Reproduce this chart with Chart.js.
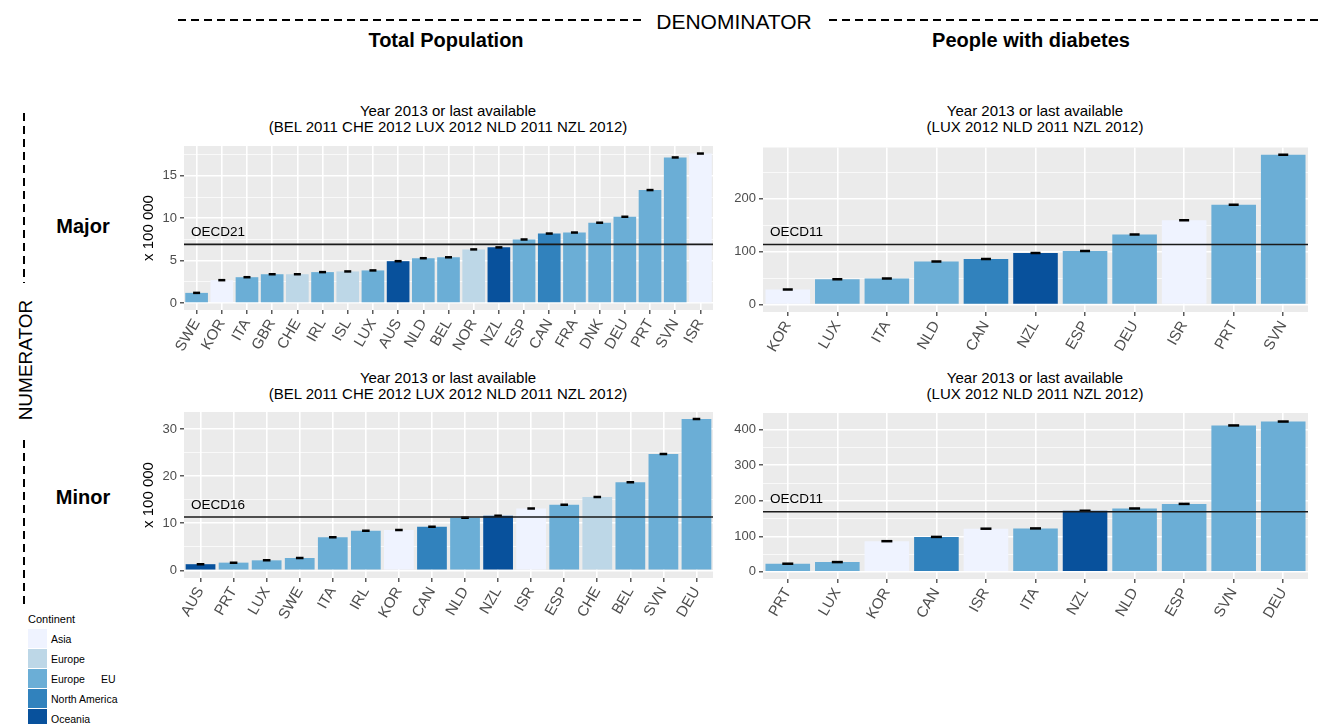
<!DOCTYPE html>
<html><head><meta charset="utf-8">
<script src="https://cdn.jsdelivr.net/npm/chart.js@4.4.1/dist/chart.umd.min.js"></script>
<style>
body{margin:0;background:#fff;width:1318px;height:724px;overflow:hidden;position:relative;font-family:"Liberation Sans",Arial,Helvetica,sans-serif;color:#000;}
canvas{position:absolute;}
.t{position:absolute;white-space:nowrap;line-height:1;transform:translate(-50%,-50%);}
.pt{position:absolute;white-space:nowrap;font-size:15px;line-height:16px;text-align:center;transform:translateX(-50%);}
.lg{position:absolute;left:28px;width:19px;height:19px;}
.ll{position:absolute;left:51px;font-size:10.5px;line-height:1;transform:translateY(-50%);}
</style></head><body>

<svg width="1318" height="724" style="position:absolute;left:0;top:0">
  <g stroke="#000" stroke-width="2" stroke-dasharray="8 5" fill="none">
    <line x1="178" y1="20" x2="641" y2="20"/>
    <line x1="829" y1="20" x2="1318" y2="20"/>
    <line x1="24" y1="113" x2="24" y2="283"/>
    <line x1="24" y1="440" x2="24" y2="605"/>
  </g>
</svg>

<div class="t" style="left:734px;top:21px;font-size:21px;">DENOMINATOR</div>
<div class="t" style="left:446px;top:40px;font-size:20px;font-weight:bold;">Total Population</div>
<div class="t" style="left:1031px;top:40px;font-size:20px;font-weight:bold;">People with diabetes</div>
<div class="t" style="left:25px;top:360px;font-size:19px;transform:translate(-50%,-50%) rotate(-90deg);">NUMERATOR</div>
<div class="t" style="left:83px;top:226px;font-size:20px;font-weight:bold;">Major</div>
<div class="t" style="left:83px;top:497px;font-size:20px;font-weight:bold;">Minor</div>

<div class="pt" style="left:448px;top:103px;">Year 2013 or last available<br>(BEL 2011 CHE 2012 LUX 2012 NLD 2011 NZL 2012)</div>
<div class="pt" style="left:1035px;top:103px;">Year 2013 or last available<br>(LUX 2012 NLD 2011 NZL 2012)</div>
<div class="pt" style="left:448px;top:370px;">Year 2013 or last available<br>(BEL 2011 CHE 2012 LUX 2012 NLD 2011 NZL 2012)</div>
<div class="pt" style="left:1035px;top:370px;">Year 2013 or last available<br>(LUX 2012 NLD 2011 NZL 2012)</div>

<canvas id="c1" width="590" height="240" style="left:130px;top:140px;width:590px;height:240px"></canvas>
<canvas id="c2" width="608" height="240" style="left:710px;top:140px;width:608px;height:240px"></canvas>
<canvas id="c3" width="590" height="245" style="left:130px;top:405px;width:590px;height:245px"></canvas>
<canvas id="c4" width="608" height="245" style="left:710px;top:405px;width:608px;height:245px"></canvas>

<div id="legend"></div>

<script>
const continents = ['Asia','Europe','Europe EU','North America','Oceania'];
const continentColors = ['#EFF3FF','#BDD7E7','#6BAED6','#3182BD','#08519C'];
const countryContinent = {
  SWE:'Europe EU', KOR:'Asia', ITA:'Europe EU', GBR:'Europe EU', CHE:'Europe', IRL:'Europe EU',
  ISL:'Europe', LUX:'Europe EU', AUS:'Oceania', NLD:'Europe EU', BEL:'Europe EU', NOR:'Europe',
  NZL:'Oceania', ESP:'Europe EU', CAN:'North America', FRA:'Europe EU', DNK:'Europe EU',
  DEU:'Europe EU', PRT:'Europe EU', SVN:'Europe EU', ISR:'Asia'
};

const majorPopCountries = ['SWE','KOR','ITA','GBR','CHE','IRL','ISL','LUX','AUS','NLD','BEL','NOR','NZL','ESP','CAN','FRA','DNK','DEU','PRT','SVN','ISR'];
const majorPopValues = [1.2,2.7,3.05,3.4,3.4,3.65,3.73,3.85,4.94,5.29,5.4,6.33,6.57,7.5,8.2,8.32,9.48,10.18,13.33,17.18,17.64];
const majorPopOECD = 6.92;

const majorDiabCountries = ['KOR','LUX','ITA','NLD','CAN','NZL','ESP','DEU','ISR','PRT','SVN'];
const majorDiabValues = [28.4,48.1,49.4,81.5,86.4,97.5,101.2,132.7,159.3,188.9,283.3];
const majorDiabOECD = 113.6;

const minorPopCountries = ['AUS','PRT','LUX','SWE','ITA','IRL','KOR','CAN','NLD','NZL','ISR','ESP','CHE','BEL','SVN','DEU'];
const minorPopValues = [1.3,1.63,2.12,2.62,7.0,8.42,8.56,9.27,11.18,11.6,13.1,13.94,15.57,18.68,24.7,32.13];
const minorPopOECD = 11.32;

const minorDiabCountries = ['PRT','LUX','KOR','CAN','ISR','ITA','NZL','NLD','ESP','SVN','DEU'];
const minorDiabValues = [23,27.6,86.4,98.4,121.5,122.3,172,178.4,191.3,412,423];
const minorDiabOECD = 169.2;

const FAMILY = '"Liberation Sans", Arial, Helvetica, sans-serif';

const bgPlugin = {
  id:'panelBg',
  beforeDraw(chart){
    const {ctx, chartArea:a} = chart;
    ctx.save(); ctx.fillStyle = '#EBEBEB';
    ctx.fillRect(a.left, a.top, a.right - a.left, a.bottom - a.top);
    ctx.restore();
  }
};
const refPlugin = {
  id:'refLine',
  afterDatasetsDraw(chart, args, o){
    const {ctx, chartArea:a} = chart;
    const y = chart.scales.y.getPixelForValue(o.value);
    ctx.save();
    ctx.strokeStyle = '#1a1a1a'; ctx.lineWidth = 1.7;
    ctx.beginPath(); ctx.moveTo(a.left, y); ctx.lineTo(a.right, y); ctx.stroke();
    ctx.fillStyle = '#000'; ctx.font = '13.5px ' + FAMILY;
    ctx.textBaseline = 'middle'; ctx.textAlign = 'left';
    ctx.fillText(o.label, a.left + 7, y - 12);
    ctx.restore();
  }
};

function makePanel(id, labels, values, oecd, oecdLabel, o){
  const colors = labels.map(c => continentColors[continents.indexOf(countryContinent[c])]);
  const isMajor = v => Math.abs(v / o.step - Math.round(v / o.step)) < 1e-6;
  new Chart(document.getElementById(id), {
    type:'bar',
    data:{labels:labels, datasets:[
      {type:'line', data:values, showLine:false, pointStyle:'line', pointRadius:o.errR, pointHoverRadius:o.errR,
       borderColor:'#000', pointBorderColor:'#000', pointBorderWidth:2.5, order:0},
      {type:'bar', data:values, backgroundColor:colors, categoryPercentage:0.9, barPercentage:1, order:1}
    ]},
    options:{
      responsive:false, animation:false, events:[],
      layout:{padding:{top:o.padTop, right:o.padRight, left:0, bottom:0}},
      plugins:{legend:{display:false}, tooltip:{enabled:false}, refLine:{value:oecd, label:oecdLabel}},
      scales:{
        x:{
          grid:{offset:false, color:'#FFFFFF', lineWidth:1.6, tickLength:4, tickColor:'#333333', tickWidth:1.2},
          border:{display:false},
          ticks:{maxRotation:60, minRotation:60, autoSkip:false, padding:2, color:'#4D4D4D', font:{size:15, family:FAMILY}},
          afterFit(s){ s.height = o.xH; s.paddingLeft = 0; s.paddingRight = 0; }
        },
        y:{
          min:o.min, max:o.max,
          grid:{color:'#FFFFFF', lineWidth:c => isMajor(c.tick.value) ? 1.6 : 0.7, tickLength:4,
                tickColor:c => isMajor(c.tick.value) ? '#333333' : 'rgba(0,0,0,0)', tickWidth:1.2},
          border:{display:false},
          ticks:{stepSize:o.step / 2, includeBounds:false, padding:3, color:'#4D4D4D', font:{size:13, family:FAMILY},
                 callback:v => isMajor(v) ? String(v) : ''},
          title:{display:o.yTitle, text:'x 100 000', color:'#000', font:{size:15, family:FAMILY}, padding:{top:10, bottom:0}},
          afterFit(s){ s.width = o.yW; s.paddingTop = 0; s.paddingBottom = 0; }
        }
      }
    },
    plugins:[bgPlugin, refPlugin]
  });
}

makePanel('c1', majorPopCountries, majorPopValues, majorPopOECD, 'OECD21',
  {min:-0.82, max:18.53, step:5, errR:3.5, padTop:2, padRight:7, xH:70, yW:54, yTitle:true});
makePanel('c2', majorDiabCountries, majorDiabValues, majorDiabOECD, 'OECD11',
  {min:-14, max:297, step:100, errR:5, padTop:1, padRight:10, xH:68, yW:53, yTitle:false});
makePanel('c3', minorPopCountries, minorPopValues, minorPopOECD, 'OECD16',
  {min:-1.63, max:33.6, step:10, errR:3.8, padTop:7, padRight:7, xH:72, yW:54, yTitle:true});
makePanel('c4', minorDiabCountries, minorDiabValues, minorDiabOECD, 'OECD11',
  {min:-20, max:447, step:100, errR:5.5, padTop:6, padRight:10, xH:71, yW:53, yTitle:false});

// legend
const lg = document.getElementById('legend');
let html = '<div class="t" style="left:28px;top:619px;font-size:11px;transform:translateY(-50%);">Continent</div>';
continents.forEach((c, i) => {
  const top = 629 + i * 20;
  html += '<div class="lg" style="top:' + top + 'px;background:' + continentColors[i] + '"></div>';
  if (c === 'Europe EU') {
    html += '<div class="ll" style="top:' + (top + 10) + 'px">Europe</div>';
    html += '<div class="ll" style="left:101px;top:' + (top + 10) + 'px">EU</div>';
  } else {
    html += '<div class="ll" style="top:' + (top + 10) + 'px">' + c + '</div>';
  }
});
lg.innerHTML = html;
</script>
</body></html>
